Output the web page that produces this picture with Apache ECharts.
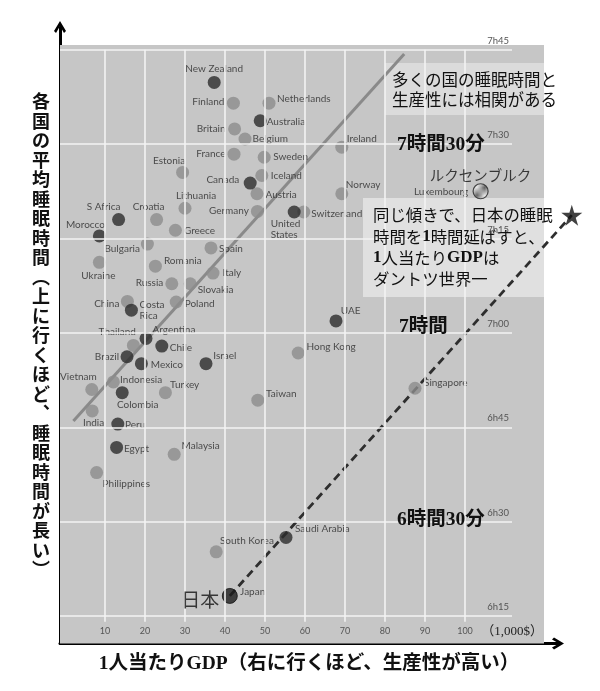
<!DOCTYPE html>
<html><head><meta charset="utf-8">
<script src="https://cdn.jsdelivr.net/npm/echarts@6/dist/echarts.min.js"></script>
<style>html,body{margin:0;padding:0;background:#fff;}#c{width:600px;height:691px;}</style>
</head><body><div id="c"></div>
<script>
// ---------------- DATA (GDP per capita in 1,000$ ; sleep in minutes) ----------------
const grayNames = ['Finland','Netherlands','Britain','Belgium','France','Sweden','Estonia','Iceland','Austria','Lithuania','Germany','Switzerland','Croatia','Greece','Ireland','Norway','Spain','Bulgaria','Ukraine','Romania','Italy','Russia','Slovakia','China','Poland','Thailand','Hong Kong','Indonesia','Vietnam','Turkey','Taiwan','India','Malaysia','Philippines','South Korea','Singapore'];
const grayGDP = [42.1,51.0,42.4,45.0,42.25,49.8,29.4,49.2,48.0,30.0,48.1,59.7,22.9,27.6,69.2,69.2,36.5,20.6,8.6,22.6,37.0,26.7,31.3,15.6,27.8,17.1,58.3,12.1,6.7,25.1,48.2,6.8,27.3,7.9,37.8,87.5];
const graySleep = [456.5,456.5,452.4,450.8,448.4,447.9,445.5,445.0,442.1,439.8,439.3,439.2,438.0,436.3,449.5,442.1,433.5,434.1,431.2,430.6,429.5,427.8,427.8,425.0,424.9,418.0,416.8,412.2,411.0,410.5,409.3,407.6,400.7,397.8,385.2,411.2];

const darkNames = ['New Zealand','Australia','Canada','United States','S Africa','Morocco','Costa Rica','Argentina','Chile','Brazil','Mexico','Israel','Colombia','Peru','Egypt','UAE','Saudi Arabia'];
const darkGDP = [37.3,48.8,46.3,57.3,13.4,8.6,16.6,20.25,24.2,15.5,19.1,35.25,14.3,13.2,12.9,67.75,55.25];
const darkSleep = [459.8,453.7,443.8,439.2,438.0,435.4,423.6,419.1,417.9,416.2,415.1,415.1,410.5,405.5,401.8,421.9,387.5];

const japanPoint = [41.2, 378.2];
const luxPoint = [103.9, 442.5];
const starPoint = [126.7, 438.7];
const trendLine = [[2.1, 406.0], [84.8, 464.3]];

const xTicks = [10,20,30,40,50,60,70,80,90,100];
const yTicks = [375,390,405,420,435,450,465];
const yTickLabels = ['6h15','6h30','6h45','7h00','7h15','7h30','7h45'];

const yTitle = '各国の平均睡眠時間（上に行くほど、睡眠時間が長い）';
const xTitle = '1人当たりGDP（右に行くほど、生産性が高い）';

// ---------------- LAYOUT / STYLE ----------------
const X_MIN = -1.25, X_MAX = 128.75, Y_MIN = 370.64, Y_MAX = 465.74;
const BG_X1 = 119.75;                   // right edge of the grey panel
const H_X0 = -1.25, H_X1 = 111.75;      // horizontal grid line extent (x)
const V_Y0 = 374.1, V_Y1 = 465;         // vertical grid line extent (y)
const labelPos = {
 'New Zealand':[0,-14,'center'],'Finland':[-9,-1,'right'],'Netherlands':[8,-4,'left'],'Australia':[6.5,1.5,'left'],
 'Britain':[-9,0,'right'],'Belgium':[7.5,0,'left'],'France':[-8.5,0,'right'],'Sweden':[9,0,'left'],
 'Estonia':[-13.5,-11.5,'center'],'Iceland':[9,0,'left'],'Canada':[-11,-3,'right'],'Austria':[8.5,1,'left'],
 'Lithuania':[11,-12,'center'],'Germany':[-8.5,-0.5,'right'],'United States':[-23.5,17.5,'left'],'Switzerland':[7.5,1.5,'left'],
 'S Africa':[-15,-12.5,'center'],'Croatia':[-8,-12.5,'center'],'Greece':[8.5,0.5,'left'],'Morocco':[-14,-11,'center'],
 'Ireland':[5,-8.5,'left'],'Norway':[4,-9,'left'],'Spain':[8,1.3,'left'],'Bulgaria':[-7.5,4.5,'right'],
 'Ukraine':[-1,13.5,'center'],'Romania':[8.5,-5,'left'],'Italy':[9.5,0,'left'],'Russia':[-8.5,-0.5,'right'],
 'Slovakia':[7.5,6,'left'],'China':[-8,2,'right'],'Costa Rica':[8,0,'left'],'Poland':[8.5,1.3,'left'],
 'Thailand':[2.5,-14,'right'],'Argentina':[6.5,-8.3,'left'],'Chile':[8,1.3,'left'],'Brazil':[-8,0,'right'],
 'Hong Kong':[8.4,-6,'left'],'Mexico':[9.4,1,'left'],'Israel':[7.3,-8,'left'],'Indonesia':[6.7,-2.4,'left'],
 'Vietnam':[5,-12.6,'right'],'Turkey':[4.7,-7.7,'left'],'Colombia':[15.5,12.3,'center'],'Taiwan':[8.3,-6.7,'left'],
 'India':[1.4,12.3,'center'],'Peru':[7.3,0.7,'left'],'Egypt':[7.3,1,'left'],'Malaysia':[7.4,-8.3,'left'],
 'Philippines':[6,11,'left'],'Saudi Arabia':[9,-9,'left'],'South Korea':[3.7,-11.3,'left'],'UAE':[4.7,-10,'left'],
 'Singapore':[9,-5.6,'left'],'Japan':[10.3,-4.3,'left'],'Luxembourg':[-12.4,0.7,'right']
};
const labelText = {'United States':'United\nStates','Costa Rica':'Costa\nRica'};
const LATIN = 'Lato, "DejaVu Sans", sans-serif';
const JP = '"Noto Sans CJK JP", sans-serif';
const SERIFJP = '"Liberation Serif", "Noto Sans CJK JP", serif';
const labelBase = {show:true, fontFamily:LATIN, fontSize:10, color:'#2a2a2a', lineHeight:10.8};

function items(names, xs, ys) {
  return names.map((n, i) => {
    const p = labelPos[n] || [8, 0, 'left'];
    return {name:n, value:[xs[i], ys[i]],
      label:Object.assign({}, labelBase, {formatter:labelText[n] || n, position:['50%','50%'], offset:[p[0], p[1]], align:p[2], verticalAlign:'middle'})};
  });
}
function makePattern(kind) {
  const c = document.createElement('canvas');
  c.width = 4; c.height = 4;
  const g = c.getContext('2d');
  if (kind === 'dots') {
    g.fillStyle = '#1c1c1c'; g.fillRect(0,0,4,4);
    g.fillStyle = '#a8a8a8'; g.fillRect(1,1,1.4,1.4);
  } else {
    g.fillStyle = '#ededed'; g.fillRect(0,0,4,4);
    g.strokeStyle = '#333'; g.lineWidth = 0.9;
    g.beginPath(); g.moveTo(0,4); g.lineTo(4,0); g.moveTo(-1,1); g.lineTo(1,-1); g.moveTo(3,5); g.lineTo(5,3); g.stroke();
  }
  return c;
}
const vertical = s => s.replace(/（/g,'︵').replace(/）/g,'︶').replace(/、/g,'︑').split('').join('\n');
const arrowPath = 'path://M6,0 L12,10 L10,12 L6,5 L2,12 L0,10 Z';
const starPath = 'path://M50,0 L61,35 L98,35 L68,57 L79,91 L50,70 L21,91 L32,57 L2,35 L39,35 Z';

const hLines = yTicks.map((v, i) => [
  {coord:[H_X0, v], label:{show:true, position:'insideEndTop', distance:[3,4], formatter:yTickLabels[i], fontFamily:LATIN, fontSize:9.5, color:'#555'}},
  {coord:[H_X1, v]}]);
const vLines = xTicks.map(v => [
  {coord:[v, V_Y0], label:{show:true, position:'start', distance:5, formatter:String(v), fontFamily:LATIN, fontSize:9, color:'#555'}},
  {coord:[v, V_Y1]}]);

const chart = echarts.init(document.getElementById('c'), null, {renderer:'canvas'});
chart.setOption({
  animation:false,
  grid:[
    {left:60, right:20, top:45, bottom:47.5, show:false, outerBoundsMode:'none'},
    {left:60, right:42, top:27, bottom:47.5, show:false, outerBoundsMode:'none'}
  ],
  xAxis:[
    {gridIndex:0, type:'value', min:X_MIN, max:X_MAX, show:false},
    {gridIndex:1, type:'value', min:0, max:1,
     axisLine:{show:true, symbol:['none', arrowPath], symbolSize:[12,13], lineStyle:{color:'#000', width:3}},
     axisTick:{show:false}, axisLabel:{show:false}, splitLine:{show:false},
     name:xTitle, nameLocation:'middle', nameGap:11,
     nameTextStyle:{fontFamily:SERIFJP, fontWeight:'bold', fontSize:19.5, color:'#111'}}
  ],
  yAxis:[
    {gridIndex:0, type:'value', min:Y_MIN, max:Y_MAX, show:false},
    {gridIndex:1, type:'value', min:0, max:1,
     axisLine:{show:true, symbol:['none', arrowPath], symbolSize:[12,13], lineStyle:{color:'#000', width:3}},
     axisTick:{show:false}, axisLabel:{show:false}, splitLine:{show:false},
     name:vertical(yTitle), nameLocation:'middle', nameGap:10, nameRotate:0,
     nameTextStyle:{fontFamily:JP, fontWeight:'bold', fontSize:18, lineHeight:19.5, color:'#111', padding:[0,0,17,0]}}
  ],
  graphic:[
    {type:'rect', z:2, silent:true, shape:{x:385, y:63, width:160, height:52}, style:{fill:'rgba(255,255,255,0.38)'}},
    {type:'rect', z:2, silent:true, shape:{x:363, y:198, width:182, height:99}, style:{fill:'rgba(255,255,255,0.45)'}},
    {type:'text', z:6, silent:true, style:{x:392, y:69, text:'多くの国の睡眠時間と\n生産性には相関がある', fontFamily:JP, fontSize:16.5, lineHeight:20.7, fill:'#111', align:'left', verticalAlign:'top'}},
    {type:'text', z:6, silent:true, style:{x:373, y:204.3, text:'同じ傾きで、日本の睡眠\n時間を{b|1}時間延ばすと、\n{b|1}人当たり{b|GDP}は\nダントツ世界一', fontFamily:JP, fontSize:16.4, lineHeight:21.4, fill:'#111', align:'left', verticalAlign:'top',
      rich:{b:{fontFamily:SERIFJP, fontWeight:'bold', fontSize:17, lineHeight:21.4, fill:'#111'}}}},
    {type:'text', z:6, silent:true, style:{x:397, y:145, text:'7時間30分', fontFamily:SERIFJP, fontWeight:'bold', fontSize:19.5, fill:'#111', align:'left', verticalAlign:'middle'}},
    {type:'text', z:6, silent:true, style:{x:399, y:327, text:'7時間', fontFamily:SERIFJP, fontWeight:'bold', fontSize:19.5, fill:'#111', align:'left', verticalAlign:'middle'}},
    {type:'text', z:6, silent:true, style:{x:397, y:520, text:'6時間30分', fontFamily:SERIFJP, fontWeight:'bold', fontSize:19.5, fill:'#111', align:'left', verticalAlign:'middle'}},
    {type:'text', z:6, silent:true, style:{x:543, y:632, text:'（1,000$）', fontFamily:SERIFJP, fontSize:13, fill:'#222', align:'right', verticalAlign:'middle'}}
  ],
  series:[
    {type:'scatter', xAxisIndex:0, yAxisIndex:0, z:0, silent:true, data:[],
     markArea:{silent:true, itemStyle:{color:'#c6c6c6'}, emphasis:{disabled:true},
       data:[[{coord:[X_MIN, Y_MIN]}, {coord:[BG_X1, Y_MAX]}]]}},
    {type:'scatter', xAxisIndex:0, yAxisIndex:0, z:1, silent:true, data:[],
     markLine:{silent:true, symbol:'none', animation:false, lineStyle:{color:'#f3f3f3', width:1.6, type:'solid'}, emphasis:{disabled:true},
       data:hLines.concat(vLines)}},
    {type:'line', xAxisIndex:0, yAxisIndex:0, z:3, silent:true, symbol:'none', data:trendLine,
     lineStyle:{color:'#8a8a8a', width:3}},
    {type:'line', xAxisIndex:0, yAxisIndex:0, z:3, silent:true, symbol:'none', clip:false, data:[japanPoint, starPoint],
     lineStyle:{color:'#2e2e2e', width:2.8, type:[8,5]}},
    {type:'scatter', xAxisIndex:0, yAxisIndex:0, z:4, silent:true, symbolSize:13, itemStyle:{color:'#8c8c8c'},
     data:items(grayNames, grayGDP, graySleep)},
    {type:'scatter', xAxisIndex:0, yAxisIndex:0, z:4, silent:true, symbolSize:13, itemStyle:{color:'#2c2c2c'},
     data:items(darkNames, darkGDP, darkSleep)},
    {type:'scatter', xAxisIndex:0, yAxisIndex:0, z:4, silent:true, symbolSize:15,
     itemStyle:{color:{image:makePattern('dots'), repeat:'repeat'}, borderColor:'#111', borderWidth:1},
     data:items(['Japan'], [japanPoint[0]], [japanPoint[1]])},
    {type:'scatter', xAxisIndex:0, yAxisIndex:0, z:4, silent:true, symbolSize:15,
     itemStyle:{color:{image:makePattern('hatch'), repeat:'repeat'}, borderColor:'#222', borderWidth:1.2},
     data:items(['Luxembourg'], [luxPoint[0]], [luxPoint[1]])},
    {type:'scatter', xAxisIndex:0, yAxisIndex:0, z:4, silent:true, clip:false, symbol:starPath, symbolSize:21,
     itemStyle:{color:'#111'}, data:[starPoint]},
    {type:'scatter', xAxisIndex:0, yAxisIndex:0, z:5, silent:true, symbolSize:1, itemStyle:{color:'transparent'},
     data:[
       {value:japanPoint, label:{show:true, formatter:'日本', fontFamily:JP, fontSize:19, color:'#111', position:['50%','50%'], offset:[-10.5,4], align:'right', verticalAlign:'middle'}},
       {value:luxPoint, label:{show:true, formatter:'ルクセンブルク', fontFamily:JP, fontSize:14.5, color:'#111', position:['50%','50%'], offset:[0,-15.5], align:'center', verticalAlign:'middle'}}
     ]}
  ]
});
</script></body></html>
